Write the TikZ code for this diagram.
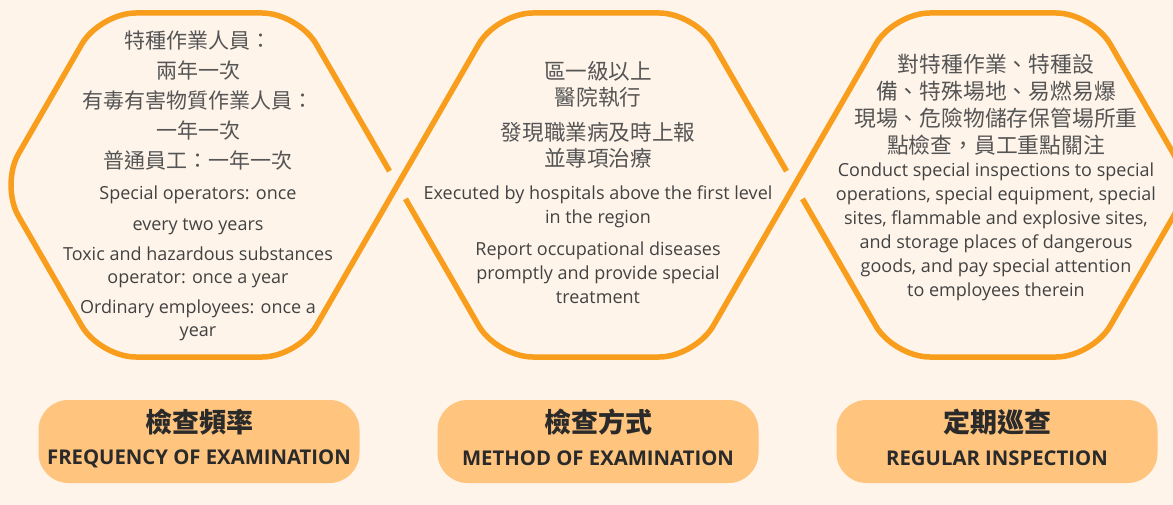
\documentclass[tikz,border=0pt]{standalone}
\usepackage{fontspec}
\setmainfont{Open Sans}
\newfontfamily\cjkfont{Noto Sans CJK TC}
\usetikzlibrary{calc}

\definecolor{pagebg}{HTML}{FEF4EA}
\definecolor{hexorange}{HTML}{F99D1C}
\definecolor{boxorange}{HTML}{FFC47E}
\definecolor{bodygray}{HTML}{424242}
\definecolor{zhgray}{HTML}{555555}
\definecolor{titlegray}{HTML}{2A2A2A}

\begin{document}
\begin{tikzpicture}[x=1pt, y=-1pt,
    hexline/.style={draw=hexorange, line width=5.5pt, rounded corners=36pt},
    zhtext/.style 2 args={text=zhgray, align=center, inner sep=0pt, font=\cjkfont\fontsize{#1}{#2}\selectfont},
    entext/.style={text=bodygray, align=center, inner sep=0pt, font=\fontsize{18}{#1}\selectfont},
    titlebox/.style={fill=boxorange, rounded corners=30pt, minimum width=321pt, minimum height=83pt, inner sep=0pt},
    titlezh/.style={text=titlegray, inner sep=0pt, font=\cjkfont\bfseries\fontsize{27}{27}\selectfont},
    titleen/.style={text=titlegray, inner sep=0pt, font=\bfseries\fontsize{20.3}{20}\selectfont}]

  % page
  \clip (0,0) rectangle (1173,505);
  \fill[pagebg] (0,0) rectangle (1173,505);

  % corners of the three hexagons
  \foreach \i/\cx in {1/199, 2/596, 3/993} {
    \coordinate (L\i)  at (\cx-198.5, 185);
    \coordinate (TL\i) at (\cx-99.25, 13);
    \coordinate (TR\i) at (\cx+99.25, 13);
    \coordinate (R\i)  at (\cx+198.5, 185);
    \coordinate (BR\i) at (\cx+99.25, 357);
    \coordinate (BL\i) at (\cx-99.25, 357);
  }

  % the chain, broken where one edge passes under the other
  \draw[hexline] ($(R1)!16pt!(TR1)$) -- (TR1) -- (TL1) -- (L1) -- (BL1) -- (BR1)
    -- (TL2) -- (TR2) -- ($(R2)!16pt!(TR2)$);
  \draw[hexline] ($(L2)!16pt!(BL2)$) -- (BL2) -- (BR2) -- (TL3) -- (TR3) -- (R3)
    -- (BR3) -- (BL3) -- ($(L3)!16pt!(BL3)$);

  % texts in the hexagons
  \node[zhtext={21}{30}] (freqzh) at (198,100.5)
    {特種作業人員：\\兩年一次\\有毒有害物質作業人員：\\一年一次\\普通員工：一年一次};
  \node[entext=23] (freqen) at (198,263.5)
    {Special operators: once\\[8pt]every two years\\[7pt]Toxic and hazardous substances\\operator: once a year\\[7pt]Ordinary employees: once a\\year};

  \node[zhtext={21.6}{26}] (methzh) at (598,115)
    {區一級以上\\醫院執行\\[9pt]發現職業病及時上報\\並專項治療};
  \node[entext=24] (methen) at (598,244.5)
    {Executed by hospitals above the first level\\in the region\\[8pt]Report occupational diseases\\promptly and provide special\\treatment};

  \node[zhtext={21.8}{27}] (inspzh) at (996,104.5)
    {對特種作業、特種設\\備、特殊場地、易燃易爆\\現場、危險物儲存保管場所重\\點檢查，員工重點關注};
  \node[entext=24] (inspen) at (996,232)
    {Conduct special inspections to special\\operations, special equipment, special\\sites, flammable and explosive sites,\\and storage places of dangerous\\goods, and pay special attention\\to employees therein};

  % titles
  \node[titlebox] (freqbox) at (199,441.5) {};
  \node[titlezh] (freqtitle) at (199,422) {檢查頻率};
  \node[titleen] (freqsub) at (199,458.5) {FREQUENCY OF EXAMINATION};

  \node[titlebox] (methbox) at (598,441.5) {};
  \node[titlezh] (methtitle) at (598,422) {檢查方式};
  \node[titleen] (methsub) at (598,458.5) {METHOD OF EXAMINATION};

  \node[titlebox] (inspbox) at (997,441.5) {};
  \node[titlezh] (insptitle) at (997,422) {定期巡查};
  \node[titleen] (inspsub) at (997,458.5) {REGULAR INSPECTION};
\end{tikzpicture}
\end{document}
